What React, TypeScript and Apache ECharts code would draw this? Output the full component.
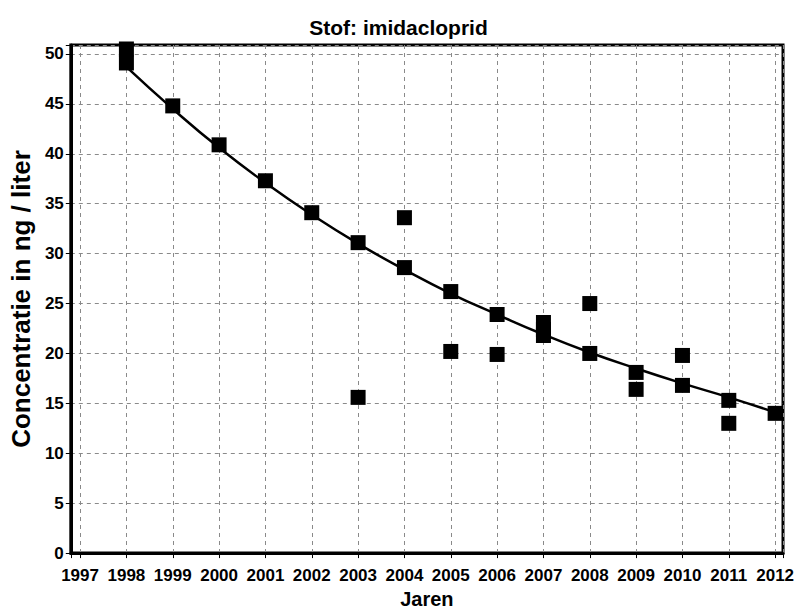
import React, { useEffect, useRef } from "react";
import * as echarts from "echarts";

const titleText = "Stof: imidacloprid";
const xAxisName = "Jaren";
const yAxisName = "Concentratie in ng / liter";

// measured points (year, concentration)
const scatterYears = [1998, 1998, 1999, 2000, 2001, 2002, 2003, 2003, 2004, 2004, 2005, 2005, 2006, 2006, 2007, 2007, 2007, 2008, 2008, 2009, 2009, 2010, 2010, 2011, 2011, 2012];
const scatterValues = [50.5, 49.1, 44.8, 40.9, 37.3, 34.1, 31.1, 15.6, 33.6, 28.6, 26.2, 20.2, 23.9, 19.9, 23.1, 22.4, 21.8, 25.0, 20.0, 18.1, 16.4, 19.8, 16.8, 15.3, 13.0, 14.0];

// trend line
const trendYears = [1998, 1999, 2000, 2001, 2002, 2003, 2004, 2005, 2006, 2007, 2008, 2009, 2010, 2011, 2012];
const trendValues = [48.7, 44.5, 40.6, 37.1, 33.9, 31.0, 28.4, 26.0, 23.9, 21.9, 20.1, 18.5, 17.0, 15.6, 14.1];

const xMin = 1996.8;
const xMax = 2012.17;
const yMin = 0;
const yMax = 50.9;
const yStep = 5;

export default function App() {
  const ref = useRef<HTMLDivElement>(null);

  useEffect(() => {
    document.body.style.margin = "0";
    if (!ref.current) return;
    const chart = echarts.init(ref.current, undefined, { renderer: "svg" });
    const font = "'Liberation Sans', Arial, sans-serif";
    chart.setOption({
      animation: false,
      backgroundColor: "#ffffff",
      title: {
        text: titleText,
        left: "center",
        top: 12,
        textStyle: { fontFamily: font, fontWeight: "bold", fontSize: 21, color: "#000" },
      },
      grid: {
        left: 67,
        right: 13,
        top: 45,
        bottom: 55,
        show: true,
        borderColor: "#000",
        borderWidth: 3,
        backgroundColor: "#fff",
      },
      xAxis: {
        type: "value",
        min: xMin,
        max: xMax,
        splitNumber: 15,
        name: xAxisName,
        nameLocation: "middle",
        nameGap: 34,
        nameTextStyle: { fontFamily: font, fontWeight: "bold", fontSize: 20, color: "#000" },
        axisLine: { show: true, lineStyle: { color: "#000", width: 3 } },
        axisTick: { show: true, length: 5, lineStyle: { color: "#000", width: 1 } },
        axisLabel: {
          margin: 14,
          fontFamily: font,
          fontWeight: "bold",
          fontSize: 17,
          color: "#000",
          formatter: (v: number) => (Math.abs(v - Math.round(v)) < 1e-6 ? String(Math.round(v)) : ""),
        },
        splitLine: { show: true, lineStyle: { color: "#8a8a8a", type: [4, 4], width: 1 } },
      },
      yAxis: {
        type: "value",
        min: yMin,
        max: yMax,
        interval: yStep,
        name: yAxisName,
        nameLocation: "middle",
        nameGap: 34,
        nameTextStyle: { fontFamily: font, fontWeight: "bold", fontSize: 26, color: "#000" },
        axisLine: { show: true, lineStyle: { color: "#000", width: 3 } },
        axisTick: { show: true, length: 5, lineStyle: { color: "#000", width: 1 } },
        axisLabel: {
          margin: 7,
          fontFamily: font,
          fontWeight: "bold",
          fontSize: 17,
          color: "#000",
          formatter: (v: number) => (Math.abs(v % yStep) < 1e-6 ? String(v) : ""),
        },
        splitLine: { show: true, lineStyle: { color: "#8a8a8a", type: [4, 4], width: 1 } },
      },
      series: [
        {
          type: "line",
          data: trendYears.map((y, i) => [y, trendValues[i]]),
          smooth: true,
          showSymbol: false,
          lineStyle: { color: "#000", width: 2.5 },
          clip: true,
          z: 2,
        },
        {
          type: "scatter",
          data: scatterYears.map((y, i) => [y, scatterValues[i]]),
          symbol: "rect",
          symbolSize: 15,
          itemStyle: { color: "#000", opacity: 1 },
          clip: true,
          z: 3,
        },
      ],
    });
    return () => chart.dispose();
  }, []);

  return <div ref={ref} style={{ width: 797, height: 614 }} />;
}
